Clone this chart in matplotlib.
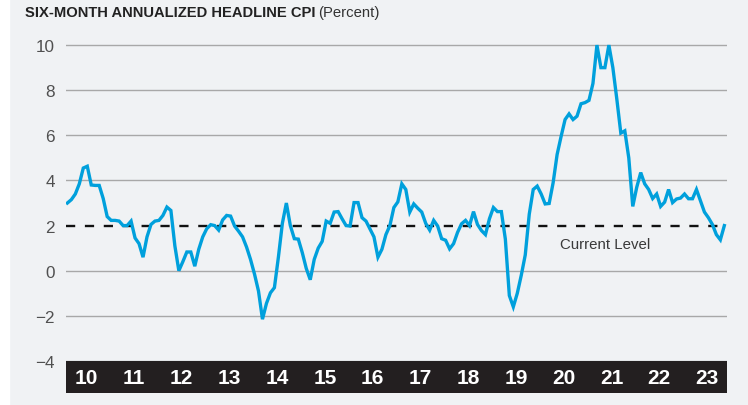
import numpy as np
import matplotlib
matplotlib.use("Agg")
import matplotlib.pyplot as plt

# ---------------- data ----------------
START_YEAR = 9.61          # position of first monthly observation on the year-label scale
cpi = [3.0, 3.15, 3.4, 3.85, 4.55, 4.63, 3.8, 3.78, 3.78, 3.2,
       2.4, 2.23, 2.23, 2.2, 2.0, 2.0, 2.2, 1.45, 1.2, 0.6,
       1.5, 2.05, 2.2, 2.23, 2.45, 2.82, 2.67, 1.1, 0.0, 0.4,
       0.83, 0.83, 0.2, 0.95, 1.5, 1.86, 2.04, 2.0, 1.8, 2.25,
       2.45, 2.42, 1.98, 1.75, 1.5, 1.05, 0.5, -0.15, -0.9, -2.15,
       -1.45, -0.98, -0.75, 0.6, 2.1, 3.0, 2.0, 1.42, 1.4, 0.8,
       0.1, -0.4, 0.5, 1.0, 1.3, 2.2, 2.1, 2.6, 2.62, 2.3,
       2.0, 1.98, 3.02, 3.02, 2.35, 2.2, 1.85, 1.5, 0.6, 0.95,
       1.6, 2.0, 2.8, 3.05, 3.85, 3.6, 2.6, 2.96, 2.77, 2.6,
       2.1, 1.8, 2.23, 1.98, 1.42, 1.35, 0.97, 1.2, 1.7, 2.08,
       2.23, 2.0, 2.62, 2.05, 1.78, 1.6, 2.3, 2.8, 2.62, 2.62,
       1.4, -1.1, -1.6, -1.0, -0.2, 0.7, 2.5, 3.6, 3.75, 3.4,
       2.96, 2.98, 3.9, 5.15, 5.95, 6.7, 6.95, 6.7, 6.85, 7.4,
       7.45, 7.55, 8.3, 10.0, 9.0, 9.0, 10.0, 9.0, 7.6, 6.1,
       6.2, 5.0, 2.85, 3.7, 4.35, 3.85, 3.6, 3.2, 3.4, 2.85,
       3.04, 3.6, 3.02, 3.18, 3.22, 3.4, 3.19, 3.19, 3.6, 3.1,
       2.6, 2.35, 2.05, 1.6, 1.37, 2.0]
current_level = 2.0
year_labels = ["10", "11", "12", "13", "14", "15", "16", "17", "18", "19",
               "20", "21", "22", "23"]
y_ticks = [-4, -2, 0, 2, 4, 6, 8, 10]
title_bold = "SIX-MONTH ANNUALIZED HEADLINE CPI"
title_unit = "(Percent)"
annot = "Current Level"

# ---------------- style ----------------
W, H = 748, 406
BG = "#f0f2f4"
BLUE = "#00a0dc"
BAND = "#231f20"
GRID = "#a8a8a8"
FONT = "Liberation Sans"

fig = plt.figure(figsize=(W / 100, H / 100), dpi=100, facecolor=BG)

# axes: from x=66 to 727 px, y from 40 px (top) to 394 px (bottom of band)
ax_l, ax_r, ax_t, ax_b = 66, 727, 40, 394
ax = fig.add_axes([ax_l / W, (H - ax_b) / H, (ax_r - ax_l) / W, (ax_b - ax_t) / H])
ax.set_facecolor(BG)
for s in ax.spines.values():
    s.set_visible(False)

px_per_year = 47.78
x_lo = 10 - (86 - ax_l) / px_per_year
x_hi = 10 + (ax_r - 86) / px_per_year
y_top = 10.27
y_bot = -5.42
ax.set_xlim(x_lo, x_hi)
ax.set_ylim(y_bot, y_top)

# gridlines (not at the current level, where the dashed line sits)
for yv in y_ticks:
    if yv != current_level:
        ax.axhline(yv, color=GRID, lw=1.0, zorder=1)

# black band with year labels
ax.axhspan(y_bot, -4, color=BAND, lw=0, zorder=2)
for lab in year_labels:
    ax.text(int(lab), (y_bot + -4) / 2 - 0.02, lab, color="white", fontsize=15,
            fontweight="bold", family=FONT, ha="center", va="center", zorder=3)

# dashed current level line
ax.axhline(current_level, color="#111111", lw=1.7, dashes=(3.9, 4.1), zorder=3)

# data line
x = START_YEAR + np.arange(len(cpi)) / 12.0
ax.plot(x, cpi, color=BLUE, lw=2.4, solid_joinstyle="miter", zorder=4)

# annotation
ax.text(19.92, 1.0, annot, color="#3a3a3a", fontsize=10.8, family=FONT,
        ha="left", va="baseline", zorder=5)

# y tick labels
ax.set_xticks([])
ax.set_yticks(y_ticks)
ax.set_yticklabels([f"{v}".replace("-", "\u2212") for v in y_ticks],
                   fontsize=12.3, color="#505050", family=FONT)
ax.tick_params(axis="y", length=0, pad=8)

# white strip at far left of picture
fig.patches.append(plt.Rectangle((0, 0), 9 / W, 1, transform=fig.transFigure,
                                 color="white", zorder=0))

# title
fig.canvas.draw()
r = fig.canvas.get_renderer()
tb = fig.text(25 / W, (H - 16.7) / H, title_bold, fontsize=10.7, fontweight="bold",
              family=FONT, color="#222222", ha="left", va="baseline")
bb = tb.get_window_extent(r)
target = 291.0
if bb.width > target:
    tb.set_fontsize(10.7 * target / bb.width)
bb = tb.get_window_extent(r)
fig.text((bb.x1 + 3) / W, (H - 16.7) / H, title_unit, fontsize=10.7, family=FONT,
         color="#333333", ha="left", va="baseline")

fig.savefig("out.png", dpi=100, facecolor=BG)
